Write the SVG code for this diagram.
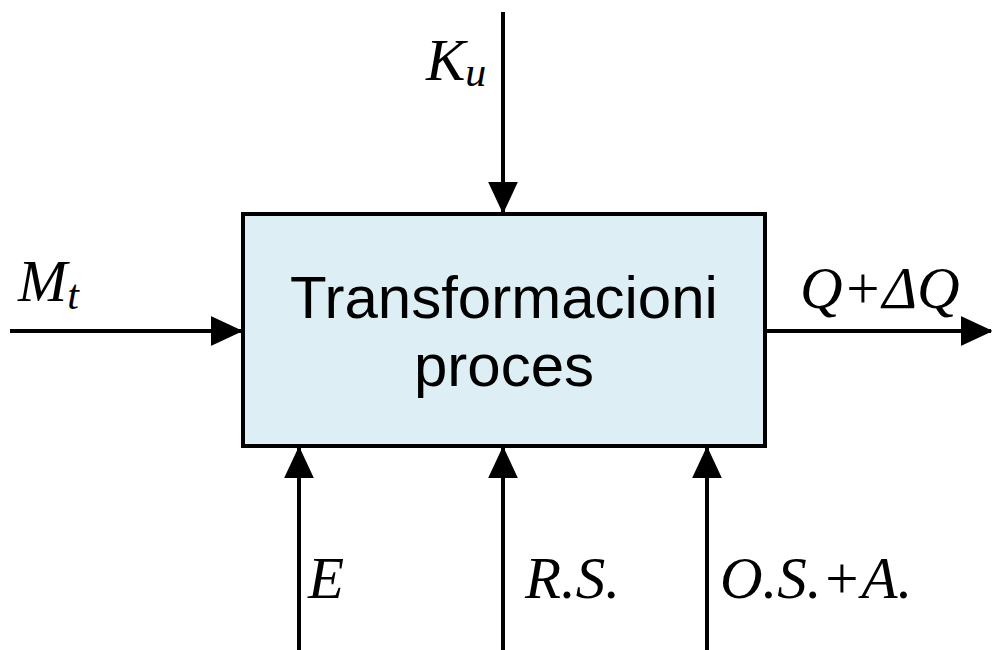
<svg xmlns="http://www.w3.org/2000/svg" width="993" height="650" viewBox="0 0 993 650">
<style>
.ln{stroke:#000;stroke-width:4;fill:none}
.lbl{font-family:"Liberation Serif","Times New Roman",serif;font-style:italic;font-size:59px;fill:#000}
.sub{font-size:42px}
.box{fill:#DDEFF4;stroke:#000;stroke-width:4}
.bt{font-family:"Liberation Sans",Arial,sans-serif;font-size:60px;fill:#000;text-anchor:middle}
</style>
<defs>
<marker id="ah" markerWidth="8" markerHeight="8" refX="7.5" refY="4" orient="auto" markerUnits="strokeWidth"><path d="M0,0.5 L7.5,4 L0,7.5 Z" fill="#000" stroke="#000" stroke-width="0.4" stroke-linejoin="round"/></marker>
</defs>
<g id="process">
<rect class="box" x="243" y="214" width="522" height="232"/>
<text class="bt" x="504" y="318">Transformacioni</text>
<text class="bt" x="504" y="386">proces</text>
</g>
<g id="connectors">
<line class="ln" x1="503" y1="12" x2="503" y2="212" marker-end="url(#ah)"/>
<line class="ln" x1="10" y1="331" x2="241" y2="331" marker-end="url(#ah)"/>
<line class="ln" x1="767" y1="331" x2="991" y2="331" marker-end="url(#ah)"/>
<line class="ln" x1="299" y1="650" x2="299" y2="448" marker-end="url(#ah)"/>
<line class="ln" x1="503" y1="650" x2="503" y2="448" marker-end="url(#ah)"/>
<line class="ln" x1="707" y1="650" x2="707" y2="448" marker-end="url(#ah)"/>
</g>
<g id="labels">
<text class="lbl" x="426" y="80">K<tspan class="sub" dy="6">u</tspan></text>
<text class="lbl" x="18" y="301">M<tspan class="sub" dy="8">t</tspan></text>
<text class="lbl" x="800" y="308">Q+ΔQ</text>
<text class="lbl" x="308" y="598">E</text>
<text class="lbl" x="525" y="598">R.S.</text>
<text class="lbl" x="720" y="598">O.S.+A.</text>
</g>
</svg>
